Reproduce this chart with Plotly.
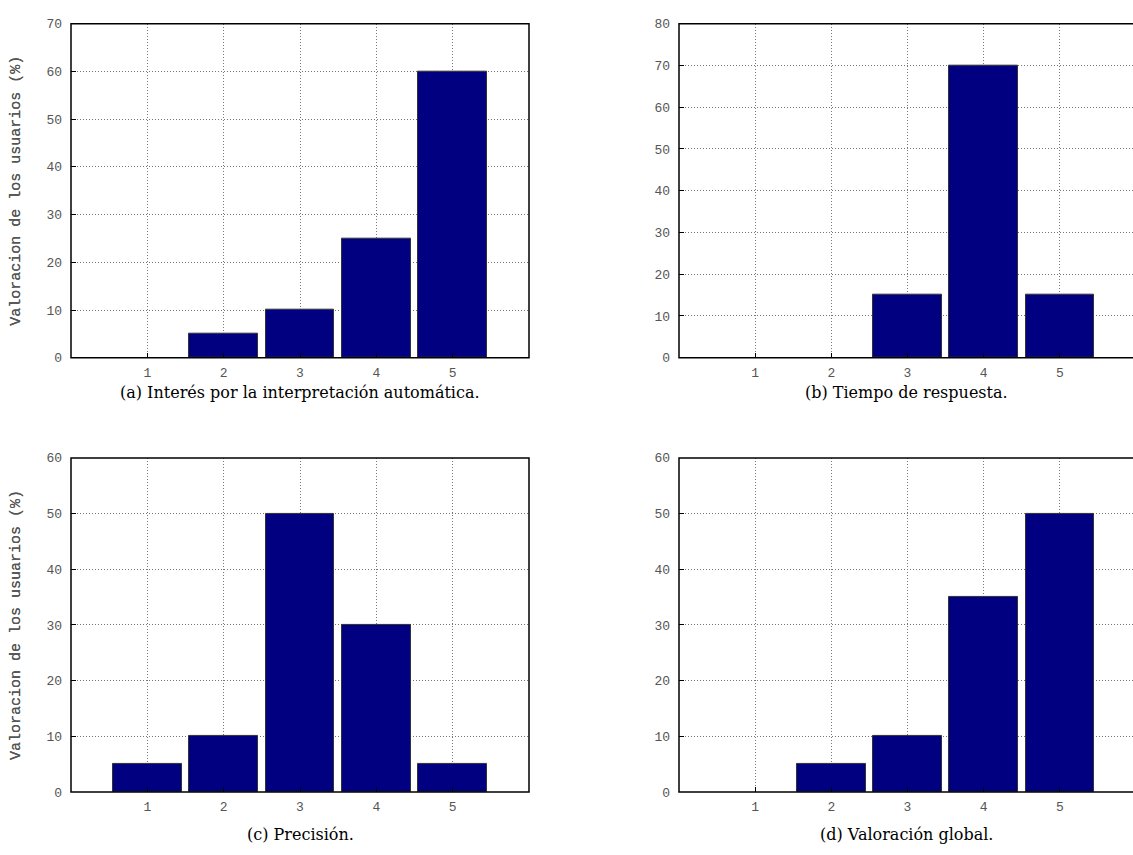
import plotly.graph_objects as go

categories = [1, 2, 3, 4, 5]
interes = [0, 5, 10, 25, 60]
tiempo = [0, 0, 15, 70, 15]
precision = [5, 10, 50, 30, 5]
global_val = [0, 5, 10, 35, 50]

captions = ["(a) Interés por la interpretación automática.",
            "(b) Tiempo de respuesta.",
            "(c) Precisión.",
            "(d) Valoración global."]
ytitle = "Valoracion de los usuarios (%)"
ymax = [70, 80, 60, 60]

W, H = 1133, 855
# panel pixel boxes: left, right, top, bottom (right may exceed canvas)
boxes = [(71, 529, 18, 358), (679, 1136, 18, 358),
         (71, 529, 460, 800), (679, 1136, 460, 800)]
cap_y = [393, 393, 843, 843]

series = [interes, tiempo, precision, global_val]

fig = go.Figure()
shapes = []
annotations = []
mono = "Liberation Mono, Courier New, monospace"

for i, (vals, box) in enumerate(zip(series, boxes)):
    l, r, t, b = box
    n = i + 1
    xa = "x" if n == 1 else f"x{n}"
    ya = "y" if n == 1 else f"y{n}"
    rr = min(r, W)
    xmax = 6 * (rr - l) / (r - l)
    shown = [v if v else None for v in vals]
    fig.add_trace(go.Bar(x=categories, y=shown, width=0.9,
                         marker=dict(color="#000080", line=dict(color="#333333", width=1)),
                         xaxis=xa, yaxis=ya, showlegend=False, hoverinfo="x+y"))
    axkw = dict(showgrid=True, gridcolor="#777777", griddash="1px,2px", gridwidth=1,
                zeroline=False, showline=False, ticks="inside", ticklen=5,
                tickcolor="#000", tickfont=dict(family=mono, size=13, color="#555555"))
    fig.layout[("xaxis" if n == 1 else f"xaxis{n}")] = dict(
        domain=[l / W, rr / W], range=[0, xmax], anchor=ya,
        tickvals=categories, ticklabelstandoff=5, **axkw)
    fig.layout[("yaxis" if n == 1 else f"yaxis{n}")] = dict(
        domain=[1 - b / H, 1 - t / H], range=[0, ymax[i]], anchor=xa,
        dtick=10, ticklabelstandoff=8, **axkw)
    shapes.append(dict(type="rect", xref="paper", yref="paper",
                       x0=l / W, x1=r / W, y0=1 - b / H, y1=1 - t / H,
                       line=dict(color="#000", width=1.5), layer="above"))
    annotations.append(dict(text=ytitle, textangle=-90, xref="paper", yref="paper",
                            x=17 / W, y=1 - (t + b) / 2 / H, xanchor="center", yanchor="middle",
                            showarrow=False, font=dict(family=mono, size=15, color="#555555")))
    annotations.append(dict(text=captions[i], xref="paper", yref="paper",
                            x=(l + rr) / 2 / W, y=1 - cap_y[i] / H,
                            xanchor="center", yanchor="middle", showarrow=False,
                            font=dict(family="DejaVu Serif", size=16, color="#000")))

fig.update_layout(width=W, height=H, margin=dict(l=0, r=0, t=0, b=0),
                  plot_bgcolor="white", paper_bgcolor="white",
                  shapes=shapes, annotations=annotations, bargap=0)

fig.write_html("out.html", config={"displayModeBar": False},
               post_script="document.body.style.margin='0';document.body.style.overflow='hidden';")
